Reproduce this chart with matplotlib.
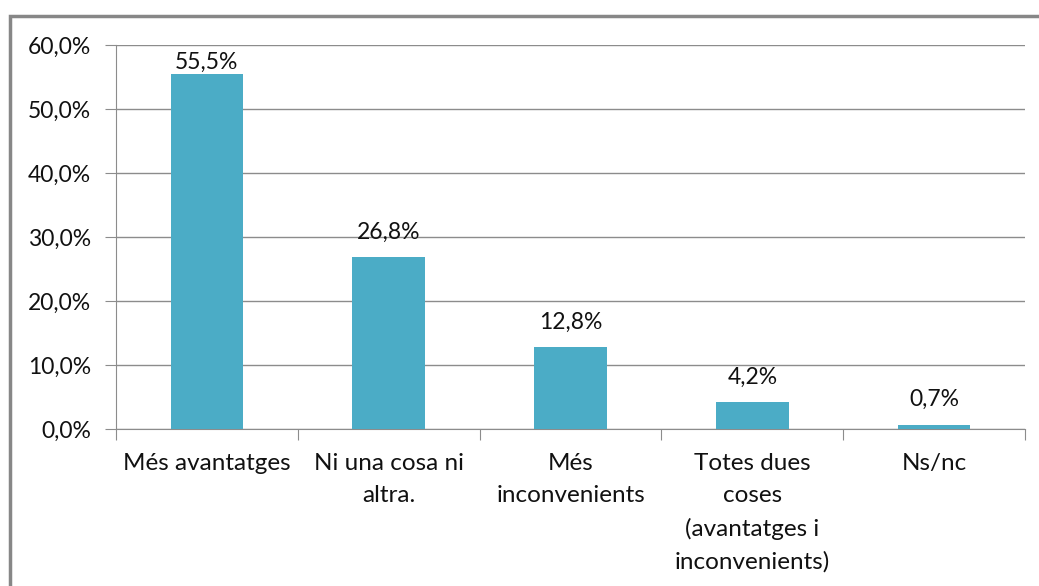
import matplotlib.pyplot as plt
from matplotlib.patches import Rectangle

categories = ['Més avantatges', 'Ni una cosa ni\naltra.', 'Més\ninconvenients',
              'Totes dues\ncoses\n(avantatges i\ninconvenients)', 'Ns/nc']
values = [55.5, 26.8, 12.8, 4.2, 0.7]
yticks = [0, 10, 20, 30, 40, 50, 60]

plt.rcParams['font.family'] = ['Lato', 'DejaVu Sans']

W, H = 1039, 586
fig = plt.figure(figsize=(W / 100, H / 100), dpi=100)
fig.patches.append(Rectangle((10 / W, -0.1), 1.2, 1 - 16 / H + 0.1, transform=fig.transFigure,
                             fill=False, edgecolor='#878787', linewidth=2.5))

ax = fig.add_axes([116 / W, 1 - 429 / H, (1025 - 116) / W, (429 - 45) / H])
x = range(len(values))
ax.bar(x, values, width=0.4, color='#4BACC6', zorder=3)
for i, v in zip(x, values):
    # label sits ~25 px above the bar, kept inside the plot area
    ax.text(i, min(v + 3.9, 57.3), f'{v:.1f}%'.replace('.', ','), ha='center', va='center',
            fontsize=16.5, color='#111111')

ax.set_xlim(-0.5, len(values) - 0.5)
ax.set_ylim(0, 60)
ax.set_yticks(yticks)
ax.set_yticklabels([f'{t:.1f}%'.replace('.', ',') for t in yticks], fontsize=16.5, color='#111111')
ax.yaxis.grid(True, color='#8c8c8c', linewidth=1)
ax.set_axisbelow(True)

ax.set_xticks([i + 0.5 for i in range(-1, len(values))])
ax.set_xticklabels([])
ax.tick_params(axis='x', length=8, color='#8c8c8c', direction='out')
ax.tick_params(axis='y', length=8, color='#8c8c8c', direction='out', pad=10)
for i, c in enumerate(categories):
    ax.text(i, -3.75, c, ha='center', va='top', fontsize=17.5, color='#111111', linespacing=1.65)

for s in ['top', 'right']:
    ax.spines[s].set_visible(False)
for s in ['left', 'bottom']:
    ax.spines[s].set_color('#8c8c8c')

fig.savefig('out.png', dpi=100)
